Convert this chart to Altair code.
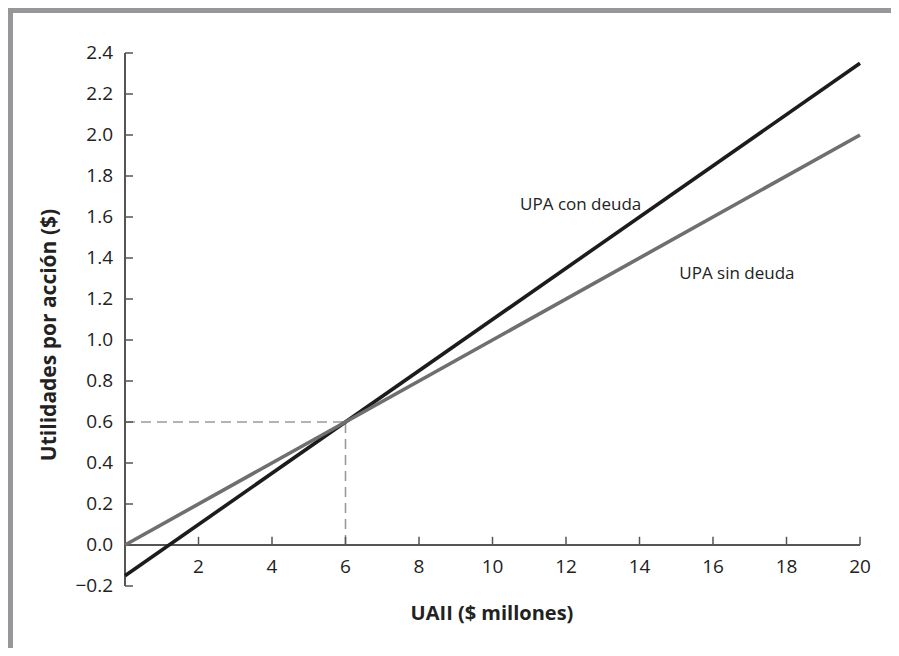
import altair as alt
import pandas as pd

# ---- data ----
uaii = [0, 20]
upa_sin_deuda = [0.0, 2.0]
upa_con_deuda = [-0.15, 2.35]
series_names = ["UPA con deuda", "UPA sin deuda"]

breakeven_x = 6
breakeven_y = 0.6

x_tick_values = [2, 4, 6, 8, 10, 12, 14, 16, 18, 20]
x_tick_labels = ["2", "4", "6", "8", "10", "12", "14", "16", "18", "20"]
y_tick_values = [-0.2, 0.0, 0.2, 0.4, 0.6, 0.8, 1.0, 1.2, 1.4, 1.6, 1.8, 2.0, 2.2, 2.4]
y_tick_labels = ["\u22120.2", "0.0", "0.2", "0.4", "0.6", "0.8", "1.0", "1.2", "1.4",
                 "1.6", "1.8", "2.0", "2.2", "2.4"]

annot_text = ["UPA con deuda", "UPA sin deuda"]
annot_x = [12.4, 16.65]
annot_y = [1.66, 1.32]

x_title = "UAII ($ millones)"
y_title = "Utilidades por acción ($)"

FONT = "Open Sans"
W, H = 735, 533
PAD = {"left": 117, "top": 45, "right": 31, "bottom": 62}

# ---- tables ----
lines_df = pd.DataFrame({
    "x": uaii * 2,
    "y": upa_con_deuda + upa_sin_deuda,
    "serie": [series_names[0]] * 2 + [series_names[1]] * 2,
})
xs = alt.Scale(domain=[0, 20], nice=False, zero=False)
ys = alt.Scale(domain=[-0.2, 2.4], nice=False, zero=False)

X = lambda f: alt.X(f, type="quantitative", scale=xs, axis=None)
Y = lambda f: alt.Y(f, type="quantitative", scale=ys, axis=None)

lines = alt.Chart(lines_df).mark_line(strokeWidth=3.6, strokeCap="butt").encode(
    x=X("x"), y=Y("y"),
    color=alt.Color("serie:N", scale=alt.Scale(domain=series_names,
                                               range=["#1c1c1c", "#6f6f6f"]), legend=None),
    order=alt.Order("serie:N", sort="descending"),
)

be = pd.DataFrame({"bx": [breakeven_x], "by": [breakeven_y], "x0": [0], "y0": [0.0]})
dash_h = alt.Chart(be).mark_rule(color="#9a9a9a", strokeWidth=1.6, strokeDash=[10, 6]).encode(
    x=X("x0"), x2="bx", y=Y("by"))
dash_v = alt.Chart(be).mark_rule(color="#9a9a9a", strokeWidth=1.6, strokeDash=[10, 6]).encode(
    x=X("bx"), y=Y("y0"), y2="by")

AX = "#555555"
axis_df = pd.DataFrame({"x0": [0], "x1": [20], "y0": [-0.2], "y1": [2.4], "z": [0.0]})
yaxis_line = alt.Chart(axis_df).mark_rule(color=AX, strokeWidth=2).encode(
    x=X("x0"), y=Y("y0"), y2="y1")
xaxis_line = alt.Chart(axis_df).mark_rule(color=AX, strokeWidth=2).encode(
    x=X("x0"), x2="x1", y=Y("z"))

yt_df = pd.DataFrame({"v": y_tick_values, "lab": y_tick_labels})
y_ticks = alt.Chart(yt_df).mark_rule(color=AX, strokeWidth=1.5).encode(
    y=Y("v"), x=alt.value(0), x2=alt.value(8))
y_labels = alt.Chart(yt_df).mark_text(align="right", baseline="middle", font=FONT,
                                      fontSize=19, color="#222222").encode(
    y=Y("v"), x=alt.value(-12), text="lab:N")

xt_df = pd.DataFrame({"v": x_tick_values, "lab": x_tick_labels, "z": [0.0] * len(x_tick_values),
                      "t": [0.04] * len(x_tick_values)})
x_ticks = alt.Chart(xt_df).mark_rule(color=AX, strokeWidth=1.5).encode(
    x=X("v"), y=Y("z"), y2="t")
x_labels = alt.Chart(xt_df).mark_text(align="center", baseline="alphabetic", font=FONT,
                                      fontSize=19, color="#222222", dy=28).encode(
    x=X("v"), y=Y("z"), text="lab:N")

an_df = pd.DataFrame({"x": annot_x, "y": annot_y, "t": annot_text})
annots = alt.Chart(an_df).mark_text(align="center", baseline="middle", font=FONT,
                                    fontSize=17, color="#222222").encode(
    x=X("x"), y=Y("y"), text="t:N")

tt_df = pd.DataFrame({"t": [x_title], "u": [y_title]})
xt = alt.Chart(tt_df).mark_text(align="center", baseline="alphabetic", font=FONT,
                                fontSize=20, fontWeight="bold", color="#222222").encode(
    x=alt.value(367), y=alt.value(567), text="t:N")
yt = alt.Chart(tt_df).mark_text(align="center", baseline="middle", font=FONT, angle=270,
                                fontSize=21, fontWeight="bold", color="#222222").encode(
    x=alt.value(-75), y=alt.value(282), text="u:N")

# frame
frame_top = alt.Chart(tt_df).mark_rect(color="#97979b").encode(
    x=alt.value(-PAD["left"]), x2=alt.value(W + PAD["right"]),
    y=alt.value(-PAD["top"]), y2=alt.value(-PAD["top"] + 5))
frame_left = alt.Chart(tt_df).mark_rect(color="#97979b").encode(
    x=alt.value(-PAD["left"]), x2=alt.value(-PAD["left"] + 5),
    y=alt.value(-PAD["top"]), y2=alt.value(H + PAD["bottom"]))

chart = alt.layer(
    frame_top, frame_left,
    dash_h, dash_v,
    yaxis_line, xaxis_line, y_ticks, x_ticks,
    lines,
    y_labels, x_labels, annots, xt, yt,
).properties(
    width=W, height=H,
    padding=PAD,
    autosize=alt.AutoSizeParams(type="none"),
    background="white",
).configure_view(stroke=None)

chart.save("out.html", embed_options={"renderer": "svg", "actions": False})
